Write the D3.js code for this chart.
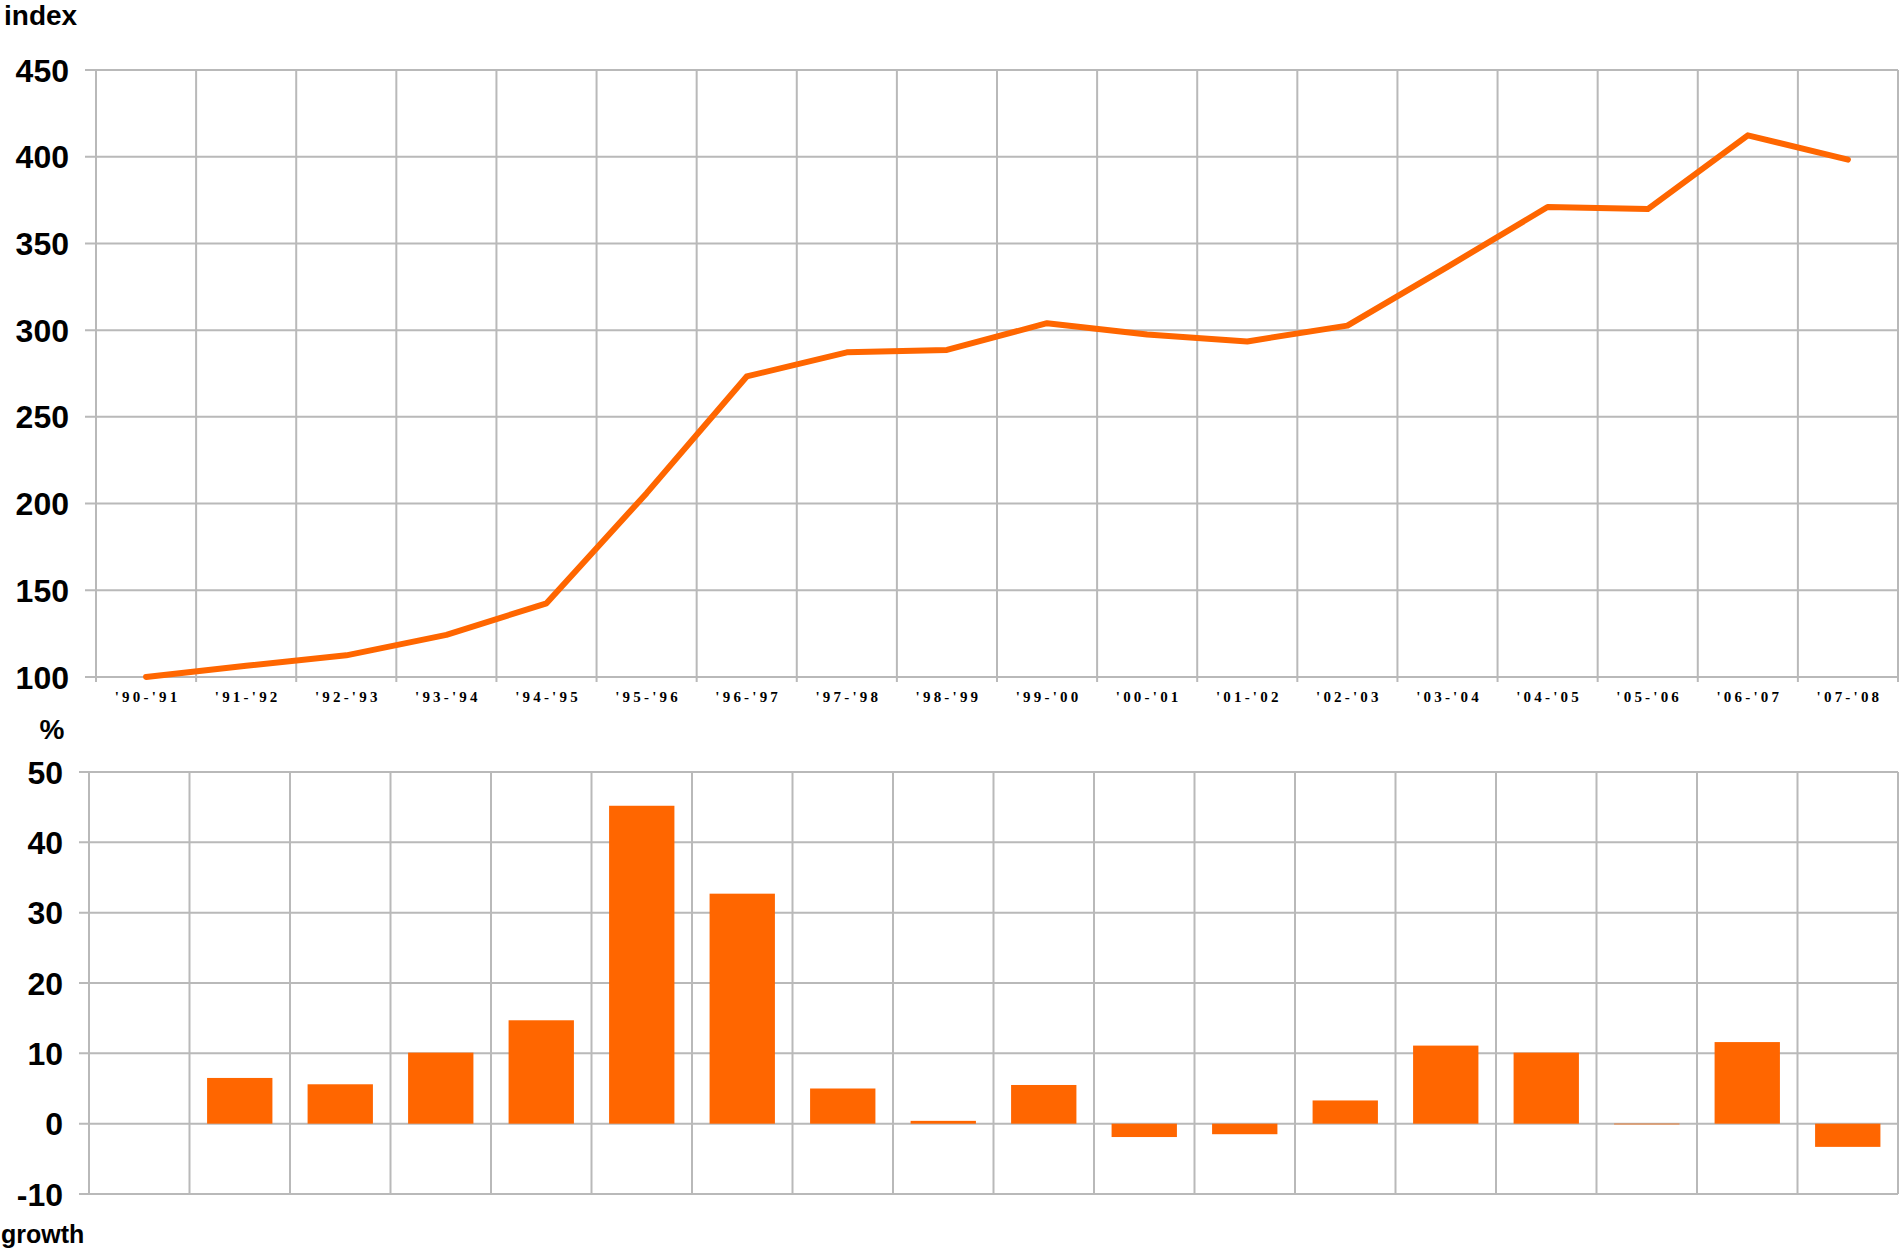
<!DOCTYPE html>
<html>
<head>
<meta charset="utf-8">
<script src="https://cdn.jsdelivr.net/npm/d3@7"></script>
<style>
  body { margin: 0; background: #fff; }
  .ylab { font-family: "Liberation Sans", Arial, sans-serif; font-weight: bold; font-size: 32px; fill: #000; }
  .xlab { font-family: "Liberation Serif", "Times New Roman", serif; font-weight: bold; font-size: 15px; letter-spacing: 3.2px; fill: #000; }
  .title { font-family: "Liberation Sans", Arial, sans-serif; font-weight: bold; fill: #000; }
</style>
</head>
<body>
<div id="chart"></div>
<script>
// data
var periods = ["'90-'91", "'91-'92", "'92-'93", "'93-'94", "'94-'95", "'95-'96", "'96-'97", "'97-'98", "'98-'99",
               "'99-'00", "'00-'01", "'01-'02", "'02-'03", "'03-'04", "'04-'05", "'05-'06", "'06-'07", "'07-'08"];
var indexValues = [100, 106.5, 112.5, 124.3, 142.5, 206, 273.3, 287.2, 288.6,
                   304, 297.5, 293.5, 302.6, 336.5, 371, 369.8, 412.3, 398.3];
var growthValues = [0, 6.5, 5.6, 10.1, 14.7, 45.2, 32.7, 5.0, 0.4,
                    5.5, -1.9, -1.5, 3.3, 11.1, 10.1, -0.1, 11.6, -3.3];
var indexTicks = [100, 150, 200, 250, 300, 350, 400, 450];
var growthTicks = [-10, 0, 10, 20, 30, 40, 50];

var W = 1899, H = 1251;
var gridColor = "#b9b9b9";
var orange = "#ff6600";

var svg = d3.select("#chart").append("svg")
    .attr("width", W)
    .attr("height", H);

// ---------- top chart (index) ----------
var xTop = d3.scaleBand().domain(periods).range([96, 1898]).padding(0);
var yTop = d3.scaleLinear().domain([100, 450]).range([677, 70]);

var topG = svg.append("g");

// horizontal grid + left ticks
topG.selectAll(".hgrid")
    .data(indexTicks)
    .enter().append("line")
    .attr("x1", 85).attr("x2", 1898)
    .attr("y1", function(d) { return yTop(d); })
    .attr("y2", function(d) { return yTop(d); })
    .attr("stroke", gridColor).attr("stroke-width", 2);

// vertical grid (category boundaries), with little ticks below axis
topG.selectAll(".vgrid")
    .data(d3.range(periods.length + 1))
    .enter().append("line")
    .attr("x1", function(i) { return xTop.range()[0] + i * xTop.step(); })
    .attr("x2", function(i) { return xTop.range()[0] + i * xTop.step(); })
    .attr("y1", yTop(450))
    .attr("y2", yTop(100) + 5)
    .attr("stroke", gridColor).attr("stroke-width", 2);

topG.selectAll(".ylab")
    .data(indexTicks)
    .enter().append("text")
    .attr("class", "ylab")
    .attr("x", 69)
    .attr("y", function(d) { return yTop(d); })
    .attr("dy", "0.36em")
    .attr("text-anchor", "end")
    .text(function(d) { return d; });

topG.selectAll(".xlab")
    .data(periods)
    .enter().append("text")
    .attr("class", "xlab")
    .attr("x", function(d) { return xTop(d) + xTop.bandwidth() / 2 + 1.5; })
    .attr("y", 702)
    .attr("text-anchor", "middle")
    .text(function(d) { return d; });

var line = d3.line()
    .x(function(d, i) { return xTop(periods[i]) + xTop.bandwidth() / 2; })
    .y(function(d) { return yTop(d); });

topG.append("path")
    .datum(indexValues)
    .attr("d", line)
    .attr("fill", "none")
    .attr("stroke", orange)
    .attr("stroke-width", 6)
    .attr("stroke-linecap", "round")
    .attr("stroke-linejoin", "round");

topG.append("text")
    .attr("class", "title")
    .attr("x", 4).attr("y", 25)
    .style("font-size", "28px")
    .text("index");

// ---------- bottom chart (growth) ----------
var xBot = d3.scaleBand().domain(periods).range([89, 1898]).paddingInner(0.35).paddingOuter(0.175);
var yBot = d3.scaleLinear().domain([-10, 50]).range([1194, 772]);
var x0 = 89, step = (1898 - 89) / periods.length;

var botG = svg.append("g");

botG.selectAll(".hgrid")
    .data(growthTicks)
    .enter().append("line")
    .attr("x1", 79).attr("x2", 1898)
    .attr("y1", function(d) { return yBot(d); })
    .attr("y2", function(d) { return yBot(d); })
    .attr("stroke", gridColor).attr("stroke-width", 2);

botG.selectAll(".vgrid")
    .data(d3.range(periods.length + 1))
    .enter().append("line")
    .attr("x1", function(i) { return x0 + i * step; })
    .attr("x2", function(i) { return x0 + i * step; })
    .attr("y1", yBot(50))
    .attr("y2", yBot(-10))
    .attr("stroke", gridColor).attr("stroke-width", 2);

botG.selectAll(".ylab")
    .data(growthTicks)
    .enter().append("text")
    .attr("class", "ylab")
    .attr("x", 63)
    .attr("y", function(d) { return yBot(d); })
    .attr("dy", "0.36em")
    .attr("text-anchor", "end")
    .text(function(d) { return d; });

botG.selectAll(".bar")
    .data(growthValues)
    .enter().append("rect")
    .attr("class", "bar")
    .attr("x", function(d, i) { return xBot(periods[i]); })
    .attr("width", xBot.bandwidth())
    .attr("y", function(d) { return yBot(Math.max(0, d)); })
    .attr("height", function(d) { return Math.abs(yBot(d) - yBot(0)); })
    .attr("fill", orange);

botG.append("text")
    .attr("class", "title")
    .attr("x", 52).attr("y", 739)
    .attr("text-anchor", "middle")
    .style("font-size", "28px")
    .text("%");

botG.append("text")
    .attr("class", "title")
    .attr("x", 1).attr("y", 1243)
    .style("font-size", "25px")
    .text("growth");
</script>
</body>
</html>
